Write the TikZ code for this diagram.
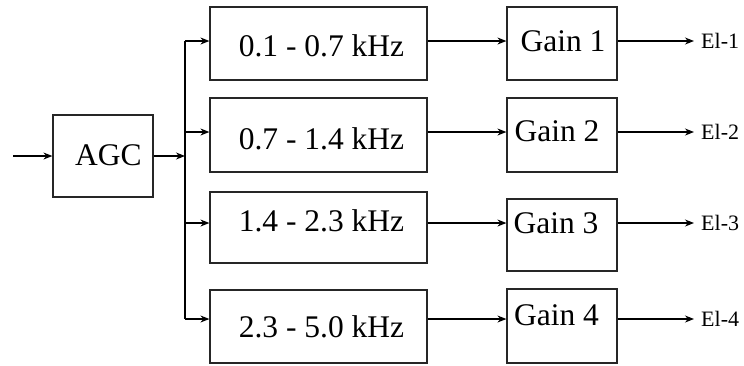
\documentclass[tikz,border=0pt]{standalone}
\usepackage{fontspec}
\setmainfont{Liberation Serif}
\usetikzlibrary{arrows.meta}
\begin{document}
\begin{tikzpicture}[x=1pt,y=-1pt,
  box/.style={draw=black!85, line width=1.2pt, inner sep=0pt},
  lbl/.style={inner sep=0pt, font=\fontsize{31.5}{36}\selectfont},
  outlbl/.style={inner sep=0pt, anchor=west, font=\fontsize{22}{26}\selectfont},
  conn/.style={line width=1.1pt, -{Stealth[length=9pt,width=7pt]}},
  wire/.style={line width=1.1pt}]
\useasboundingbox (0,0) rectangle (744,365);
% AGC
\node[box, minimum width=100pt, minimum height=82pt] (agc) at (103,156) {};
\node[lbl] (agct) at (108.5,155) {AGC};
\coordinate (in) at (13,156);
% filter boxes
\node[box, minimum width=217pt, minimum height=73pt] (f1) at (318.5,43.5) {};
\node[box, minimum width=217pt, minimum height=74pt] (f2) at (318.5,135) {};
\node[box, minimum width=217pt, minimum height=71pt] (f3) at (318.5,227.5) {};
\node[box, minimum width=217pt, minimum height=73pt] (f4) at (318.5,326.5) {};
\node[lbl] (f1t) at (321.5,46) {0.1 - 0.7 kHz};
\node[lbl] (f2t) at (321.5,138.5) {0.7 - 1.4 kHz};
\node[lbl] (f3t) at (321.5,221) {1.4 - 2.3 kHz};
\node[lbl] (f4t) at (321.5,327) {2.3 - 5.0 kHz};
% gain boxes
\node[box, minimum width=110pt, minimum height=73pt] (g1) at (562,43.5) {};
\node[box, minimum width=110pt, minimum height=74pt] (g2) at (562,135) {};
\node[box, minimum width=110pt, minimum height=72pt] (g3) at (562,235) {};
\node[box, minimum width=110pt, minimum height=74pt] (g4) at (562,326) {};
\node[lbl] (g1t) at (563,41) {Gain 1};
\node[lbl] (g2t) at (557,131.5) {Gain 2};
\node[lbl] (g3t) at (556,223) {Gain 3};
\node[lbl] (g4t) at (556.5,315) {Gain 4};
% row coordinates
\coordinate (r1) at (0,41);
\coordinate (r2) at (0,132);
\coordinate (r3) at (0,223);
\coordinate (r4) at (0,319);
% outputs
\node[outlbl] (e1) at (701,41) {El-1};
\node[outlbl] (e2) at (701,132) {El-2};
\node[outlbl] (e3) at (701,223) {El-3};
\node[outlbl] (e4) at (701,319) {El-4};
\coordinate (bus) at (185,156);
\coordinate (bustop) at (185,41);
\coordinate (busbot) at (185,319);
% connectors
\draw[conn] (in) -- (agc.west |- in);
\draw[conn] (agc.east |- bus) -- (bus);
\draw[wire] (bustop) -- (busbot);
\draw[conn] (bustop) -- (f1.west |- r1);
\draw[conn] (bus |- r2) -- (f2.west |- r2);
\draw[conn] (bus |- r3) -- (f3.west |- r3);
\draw[conn] (busbot) -- (f4.west |- r4);
\draw[conn] (f1.east |- r1) -- (g1.west |- r1);
\draw[conn] (f2.east |- r2) -- (g2.west |- r2);
\draw[conn] (f3.east |- r3) -- (g3.west |- r3);
\draw[conn] (f4.east |- r4) -- (g4.west |- r4);
\draw[conn] (g1.east |- r1) -- ([xshift=-7pt]e1.west);
\draw[conn] (g2.east |- r2) -- ([xshift=-7pt]e2.west);
\draw[conn] (g3.east |- r3) -- ([xshift=-7pt]e3.west);
\draw[conn] (g4.east |- r4) -- ([xshift=-7pt]e4.west);
\end{tikzpicture}
\end{document}
